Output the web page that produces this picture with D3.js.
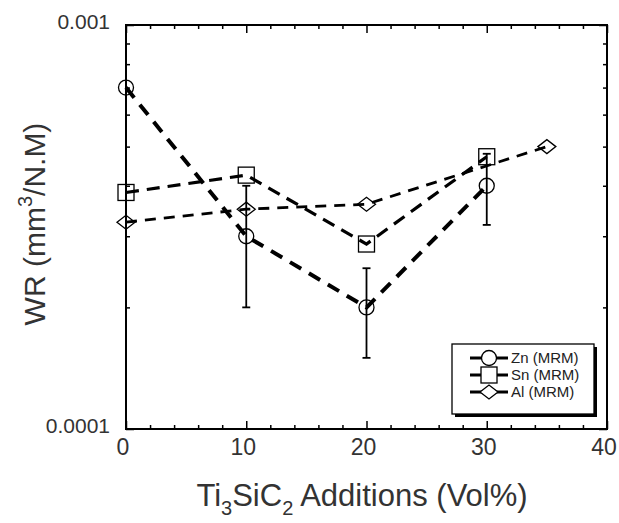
<!DOCTYPE html>
<html>
<head>
<meta charset="utf-8">
<script src="https://cdn.jsdelivr.net/npm/d3@7"></script>
<style>
  body { margin: 0; background: #fff; }
  text { font-family: "Liberation Sans", Arial, sans-serif; fill: #333; }
</style>
</head>
<body>
<div id="main"></div>
<script>
// DATA
const xZn = [0, 10, 20, 30]
const zn = [7.0e-4, 3.0e-4, 2.0e-4, 4.0e-4]
const znLow = [null, 2.0e-4, 1.5e-4, 3.2e-4]
const znHigh = [null, 4.0e-4, 2.5e-4, 4.8e-4]

const xSn = [0, 10, 20, 30]
const sn = [3.85e-4, 4.25e-4, 2.87e-4, 4.72e-4]

const xAl = [0, 10, 20, 35]
const al = [3.25e-4, 3.5e-4, 3.6e-4, 5.0e-4]

const xTicks = [0, 10, 20, 30, 40]
const yTicks = [1e-4, 1e-3]
const yTickLabels = ["0.0001", "0.001"]
const legendNames = ["Zn (MRM)", "Sn (MRM)", "Al (MRM)"]

// SETUP
const width = 619, height = 523
const margin = {top: 25, right: 12, bottom: 94, left: 126}
const black = '#000'

let svg = d3.select("#main").append("svg")
  .attr("width", width)
  .attr("height", height)

let x = d3.scaleLinear().domain([0, 40]).range([margin.left, width - margin.right])
let y = d3.scaleLog().domain([1e-4, 1e-3]).range([height - margin.bottom, margin.top])

const minorX = d3.range(0, 41, 2).filter(d => d % 10 !== 0)
const minorY = d3.range(2, 10).map(d => d * 1e-4)

// AXES
function frame(g, axis, values, size) {
  g.call(axis.tickValues(values).tickSize(size).tickFormat(""))
  g.select(".domain").remove()
  g.selectAll("line").attr("stroke", black).attr("stroke-width", 1.5)
}

const pBottom = height - margin.bottom, pLeft = margin.left
const pRight = width - margin.right, pTop = margin.top

frame(svg.append("g").attr("transform", `translate(0,${pBottom})`), d3.axisBottom(x), xTicks, -8)
frame(svg.append("g").attr("transform", `translate(0,${pBottom})`), d3.axisBottom(x), minorX, -4)
frame(svg.append("g").attr("transform", `translate(0,${pTop})`), d3.axisTop(x), xTicks, -8)
frame(svg.append("g").attr("transform", `translate(0,${pTop})`), d3.axisTop(x), minorX, -4)
frame(svg.append("g").attr("transform", `translate(${pLeft},0)`), d3.axisLeft(y), yTicks, -8)
frame(svg.append("g").attr("transform", `translate(${pLeft},0)`), d3.axisLeft(y), minorY, -4)
frame(svg.append("g").attr("transform", `translate(${pRight},0)`), d3.axisRight(y), yTicks, -8)
frame(svg.append("g").attr("transform", `translate(${pRight},0)`), d3.axisRight(y), minorY, -4)

svg.append("rect")
  .attr("x", pLeft).attr("y", pTop)
  .attr("width", pRight - pLeft).attr("height", pBottom - pTop)
  .attr("fill", "none").attr("stroke", black).attr("stroke-width", 2)

// tick labels
svg.append("g").selectAll("text")
  .data(xTicks).enter().append("text")
    .attr("x", d => x(d) - 3)
    .attr("y", pBottom + 26)
    .attr("text-anchor", "middle")
    .attr("font-size", 23)
    .text(d => d)

svg.append("g").selectAll("text")
  .data(yTicks).enter().append("text")
    .attr("x", pLeft - 16)
    .attr("y", d => y(d) + 4)
    .attr("text-anchor", "end")
    .attr("font-size", 21)
    .text((d, i) => yTickLabels[i])

// titles
let xt = svg.append("text")
  .attr("x", 362).attr("y", 506)
  .attr("text-anchor", "middle")
  .attr("font-size", 31)
xt.append("tspan").text("Ti")
xt.append("tspan").attr("font-size", 20).attr("dy", 9).text("3")
xt.append("tspan").attr("dy", -9).text("SiC")
xt.append("tspan").attr("font-size", 20).attr("dy", 9).text("2")
xt.append("tspan").attr("dy", -9).text(" Additions (Vol%)")

let yt = svg.append("text")
  .attr("transform", "translate(45,224) rotate(-90)")
  .attr("text-anchor", "middle")
  .attr("font-size", 30)
yt.append("tspan").text("WR (mm")
yt.append("tspan").attr("font-size", 20).attr("dy", -13).text("3")
yt.append("tspan").attr("dy", 13).text("/N.M)")

// MARKERS
function marker(g, type, cx, cy) {
  if (type === "circle") {
    g.append("circle").attr("cx", cx).attr("cy", cy).attr("r", 7.5)
      .attr("fill", "none").attr("stroke", black).attr("stroke-width", 1.3)
  } else if (type === "square") {
    g.append("rect").attr("x", cx - 8).attr("y", cy - 8).attr("width", 16).attr("height", 16)
      .attr("fill", "none").attr("stroke", black).attr("stroke-width", 1.3)
  } else {
    g.append("path").attr("d", `M${cx - 9},${cy}L${cx},${cy - 7}L${cx + 9},${cy}L${cx},${cy + 7}Z`)
      .attr("fill", "none").attr("stroke", black).attr("stroke-width", 1.3)
  }
}

const series = [
  {xs: xZn, ys: zn, type: "circle", dash: "13,9", w: 4},
  {xs: xSn, ys: sn, type: "square", dash: "13,8", w: 3.2},
  {xs: xAl, ys: al, type: "diamond", dash: "11,8", w: 2.8}
]

let line = d3.line().x(d => x(d[0])).y(d => y(d[1]))

// error bars for Zn
let eb = svg.append("g")
xZn.forEach((v, i) => {
  if (znLow[i] == null) return
  eb.append("line").attr("x1", x(v)).attr("x2", x(v))
    .attr("y1", y(znLow[i])).attr("y2", y(znHigh[i]))
    .attr("stroke", black).attr("stroke-width", 1.8)
  ;[znLow[i], znHigh[i]].forEach(e => {
    eb.append("line").attr("x1", x(v) - 4).attr("x2", x(v) + 4)
      .attr("y1", y(e)).attr("y2", y(e))
      .attr("stroke", black).attr("stroke-width", 1.8)
  })
})

series.forEach(s => {
  let pts = s.xs.map((v, i) => [v, s.ys[i]])
  svg.append("path").datum(pts)
    .attr("d", line)
    .attr("fill", "none")
    .attr("stroke", black)
    .attr("stroke-width", s.w)
    .attr("stroke-dasharray", s.dash)
  let g = svg.append("g")
  pts.forEach(p => marker(g, s.type, x(p[0]), y(p[1])))
})

// LEGEND
let lg = svg.append("g")
lg.append("rect").attr("x", 455).attr("y", 347).attr("width", 142).attr("height", 70).attr("fill", black)
lg.append("rect").attr("x", 452).attr("y", 344).attr("width", 142).attr("height", 70)
  .attr("fill", "#fff").attr("stroke", black).attr("stroke-width", 1.3)

const legendY = [358, 375, 392]
series.forEach((s, i) => {
  lg.append("line").attr("x1", 470).attr("x2", 508)
    .attr("y1", legendY[i]).attr("y2", legendY[i])
    .attr("stroke", black).attr("stroke-width", 3)
  let m = lg.append("g")
  marker(m, s.type, 489, legendY[i])
  m.selectAll("*").attr("fill", "#fff")
  lg.append("text").attr("x", 511).attr("y", legendY[i] + 5)
    .attr("font-size", 15)
    .attr("font-family", "'Liberation Sans Narrow', 'Arial Narrow', sans-serif")
    .style("fill", "#222")
    .text(legendNames[i])
})
</script>
</body>
</html>
